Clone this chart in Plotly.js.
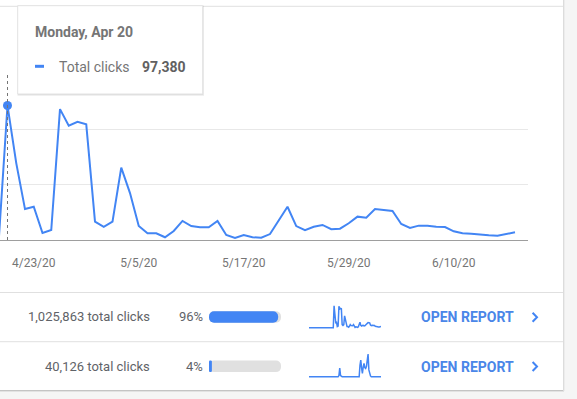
<!DOCTYPE html>
<html>
<head>
<meta charset="utf-8">
<script src="https://cdn.plot.ly/plotly-3.0.1.min.js"></script>
<style>
  html, body { margin: 0; padding: 0; background: #f5f5f5; overflow: hidden; }
  #chart { width: 577px; height: 399px; }
</style>
</head>
<body>
<div id="chart"></div>
<script>
// ---------- DATA ----------
const dates = [
  '2020-03-20','2020-03-21','2020-03-22','2020-03-23','2020-03-24','2020-03-25','2020-03-26','2020-03-27','2020-03-28','2020-03-29','2020-03-30','2020-03-31',
  '2020-04-01','2020-04-02','2020-04-03','2020-04-04','2020-04-05','2020-04-06','2020-04-07','2020-04-08','2020-04-09','2020-04-10',
  '2020-04-11','2020-04-12','2020-04-13','2020-04-14','2020-04-15','2020-04-16','2020-04-17','2020-04-18','2020-04-19','2020-04-20',
  '2020-04-21','2020-04-22','2020-04-23','2020-04-24','2020-04-25','2020-04-26','2020-04-27','2020-04-28','2020-04-29','2020-04-30',
  '2020-05-01','2020-05-02','2020-05-03','2020-05-04','2020-05-05','2020-05-06','2020-05-07','2020-05-08','2020-05-09','2020-05-10',
  '2020-05-11','2020-05-12','2020-05-13','2020-05-14','2020-05-15','2020-05-16','2020-05-17','2020-05-18','2020-05-19','2020-05-20',
  '2020-05-21','2020-05-22','2020-05-23','2020-05-24','2020-05-25','2020-05-26','2020-05-27','2020-05-28','2020-05-29','2020-05-30',
  '2020-05-31','2020-06-01','2020-06-02','2020-06-03','2020-06-04','2020-06-05','2020-06-06','2020-06-07','2020-06-08','2020-06-09',
  '2020-06-10','2020-06-11','2020-06-12','2020-06-13','2020-06-14','2020-06-15','2020-06-16','2020-06-17'
];

// Total clicks per day (main chart and first sparkline)
const totalClicks = [
  0,0,0,0,0,0,0,0,0,0,0,0,
  0,0,0,0,0,0,0,0,0,0,
  0,0,0,0,0,0,0,0,0,97380,
  55700,22400,24100,5100,7200,94800,82800,85600,83800,13300,
  9600,13300,52400,34000,10100,4900,4900,2000,6500,13800,
  10100,9200,9200,13800,3600,1500,3600,2000,1700,4300,
  14500,24100,10100,7200,9600,10900,7800,8200,12100,16900,
  16200,22400,21700,21000,11600,8700,10400,10400,9600,9400,
  6300,4900,4600,3800,3400,3100,4600,5600
];

// Second row clicks per day (second sparkline)
const secondRowClicks = [
  0,0,0,0,0,0,0,0,0,0,0,0,
  0,0,0,0,0,0,0,0,0,0,
  0,0,0,0,0,0,0,0,0,0,
  0,0,0,0,0,300,2300,300,0,0,
  0,0,0,0,0,0,0,0,0,0,
  0,0,0,0,0,0,0,0,0,0,
  0,3000,4400,2300,900,2500,3500,2400,2200,2700,
  4600,6000,1800,600,200,0,0,0,0,0,
  0,0,0,0,0,0,0,0
];

const tickDates  = ['2020-04-23','2020-05-05','2020-05-17','2020-05-29','2020-06-10'];
const tickLabels = ['4/23/20','5/5/20','5/17/20','5/29/20','6/10/20'];

const rowTotals   = [1025863, 40126];
const rowPercents = [96, 4];
const rowIndex    = [0, 1];
const barFull     = [100, 100];

const hoverDate  = '2020-04-20';
const hoverTitle = 'Monday, Apr 20';
const seriesName = 'Total clicks';
const actionText = 'OPEN REPORT';

// ---------- LAYOUT HELPERS ----------
const W = 577, H = 399;
const px = x => x / W;
const py = y => 1 - y / H;
const BLUE = '#4285f4';
const DAY = 86400000;
const dayPx = 8.75;
const hi = dates.indexOf(hoverDate);
const hoverMs = Date.parse(hoverDate + 'T00:00:00Z');
const xStart = hoverMs - (7.5 / dayPx) * DAY;
const xEnd = xStart + (527.7 / dayPx) * DAY;

const max1 = Math.max(...totalClicks);
const max2 = Math.max(...secondRowClicks);
const barBase = 1e-6; // non-zero base so both bar ends get rounded

// ---------- TRACES ----------
const traces = [
  { x: dates, y: totalClicks, xaxis: 'x', yaxis: 'y', type: 'scatter', mode: 'lines',
    line: { color: BLUE, width: 2 }, hoverinfo: 'skip' },
  { x: [dates[hi]], y: [totalClicks[hi]], xaxis: 'x', yaxis: 'y', type: 'scatter', mode: 'markers',
    marker: { color: BLUE, size: 9 }, hoverinfo: 'skip', cliponaxis: false },
  // progress bars
  { type: 'bar', orientation: 'h', y: rowIndex, x: barFull, base: barBase,
    xaxis: 'x2', yaxis: 'y2', width: 0.235, marker: { color: '#e0e0e0', cornerradius: 6 }, hoverinfo: 'skip' },
  { type: 'bar', orientation: 'h', y: rowIndex, x: rowPercents, base: barBase,
    xaxis: 'x2', yaxis: 'y2', width: 0.235, marker: { color: BLUE, cornerradius: 6 }, hoverinfo: 'skip' },
  // sparklines
  { x: dates, y: totalClicks, xaxis: 'x3', yaxis: 'y3', type: 'scatter', mode: 'lines',
    line: { color: BLUE, width: 1.5 }, hoverinfo: 'skip' },
  { x: dates, y: secondRowClicks, xaxis: 'x4', yaxis: 'y4', type: 'scatter', mode: 'lines',
    line: { color: BLUE, width: 1.5 }, hoverinfo: 'skip' }
];

// ---------- SHAPES ----------
const shapes = [
  // card
  { type: 'rect', xref: 'paper', yref: 'paper', x0: 0, x1: px(563), y0: py(390), y1: 1,
    fillcolor: '#ffffff', line: { width: 0 }, layer: 'below' },
  { type: 'line', xref: 'paper', yref: 'paper', x0: px(563.5), x1: px(563.5), y0: py(390), y1: 1,
    line: { color: '#dcdcdc', width: 1 }, layer: 'below' },
  { type: 'line', xref: 'paper', yref: 'paper', x0: px(564.5), x1: px(564.5), y0: py(391), y1: 1,
    line: { color: '#ececec', width: 1 }, layer: 'below' },
  { type: 'line', xref: 'paper', yref: 'paper', x0: 0, x1: px(563.5), y0: py(390.5), y1: py(390.5),
    line: { color: '#c4c4c4', width: 1 }, layer: 'below' },
  { type: 'line', xref: 'paper', yref: 'paper', x0: 0, x1: px(564), y0: py(391.5), y1: py(391.5),
    line: { color: '#e2e2e2', width: 1 }, layer: 'below' },
  // dividers
  { type: 'line', xref: 'paper', yref: 'paper', x0: 0, x1: px(563), y0: py(6.3), y1: py(6.3),
    line: { color: '#e0e0e0', width: 1 }, layer: 'below' },
  { type: 'line', xref: 'paper', yref: 'paper', x0: 0, x1: px(563), y0: py(292.5), y1: py(292.5),
    line: { color: '#e0e0e0', width: 1 }, layer: 'below' },
  { type: 'line', xref: 'paper', yref: 'paper', x0: 0, x1: px(563), y0: py(341.7), y1: py(341.7),
    line: { color: '#e0e0e0', width: 1 }, layer: 'below' },
  // hover guide
  { type: 'line', xref: 'x', yref: 'y', x0: dates[hi], x1: dates[hi], y0: 0, y1: 120000,
    line: { color: '#757575', width: 1, dash: 'dot' } },
  // tooltip shadow + box
  { type: 'rect', xref: 'paper', yref: 'paper', x0: px(17.5), x1: px(204), y0: py(96), y1: py(5.5),
    fillcolor: 'rgba(0,0,0,0.06)', line: { width: 0 } },
  { type: 'rect', xref: 'paper', yref: 'paper', x0: px(17.7), x1: px(203.3), y0: py(95), y1: py(5.7),
    fillcolor: 'rgba(0,0,0,0.08)', line: { width: 0 } },
  { type: 'rect', xref: 'paper', yref: 'paper', x0: px(17.7), x1: px(202.7), y0: py(94), y1: py(5.7),
    fillcolor: '#ffffff', line: { color: '#e3e3e3', width: 1 } },
  { type: 'line', xref: 'paper', yref: 'paper', x0: px(35), x1: px(44), y0: py(66.3), y1: py(66.3),
    line: { color: BLUE, width: 3 } },
  // chevrons
  { type: 'path', xref: 'paper', yref: 'paper',
    path: `M ${px(532.6)},${py(312.8)} L ${px(537)},${py(317.3)} L ${px(532.6)},${py(321.8)}`,
    line: { color: BLUE, width: 2 } },
  { type: 'path', xref: 'paper', yref: 'paper',
    path: `M ${px(532.6)},${py(362)} L ${px(537)},${py(366.5)} L ${px(532.6)},${py(371)}`,
    line: { color: BLUE, width: 2 } }
];

// ---------- ANNOTATIONS ----------
const fmt = v => v.toLocaleString('en-US');
const rowY = [316.8, 366.3];
const annotations = [
  { text: '<b>' + hoverTitle + '</b>', x: px(33), y: py(31.5), xanchor: 'left', yanchor: 'middle',
    font: { size: 14, color: '#757575' } },
  { text: seriesName, x: px(56.5), y: py(67), xanchor: 'left', yanchor: 'middle',
    font: { size: 14, color: '#757575' } },
  { text: '<b>' + fmt(totalClicks[hi]) + '</b>', x: px(188), y: py(67), xanchor: 'right', yanchor: 'middle',
    font: { size: 14, color: '#616161' } }
];
rowIndex.forEach(i => {
  annotations.push({ text: fmt(rowTotals[i]) + ' total clicks', x: px(152), y: py(rowY[i]),
    xanchor: 'right', yanchor: 'middle', font: { size: 13, color: '#5f6368' } });
  annotations.push({ text: rowPercents[i] + '%', x: px(205.3), y: py(rowY[i]),
    xanchor: 'right', yanchor: 'middle', font: { size: 13, color: '#5f6368' } });
  annotations.push({ text: '<b>' + actionText + '</b>', x: px(419.3), y: py(rowY[i] + 0.5),
    xanchor: 'left', yanchor: 'middle', font: { size: 14, color: '#4a86e8' } });
});
annotations.forEach(a => { a.xref = 'paper'; a.yref = 'paper'; a.showarrow = false; });

// ---------- LAYOUT ----------
const hidden = { visible: false, fixedrange: true };
const layout = {
  width: W, height: H,
  margin: { l: 0, r: 0, t: 0, b: 0, pad: 0 },
  paper_bgcolor: '#f5f5f5',
  plot_bgcolor: 'rgba(0,0,0,0)',
  showlegend: false,
  barmode: 'overlay',
  font: { family: 'Roboto, Arial, sans-serif' },
  xaxis: {
    type: 'date', domain: [0, px(527.7)], range: [xStart, xEnd],
    tickmode: 'array', tickvals: tickDates, ticktext: tickLabels,
    ticks: 'outside', ticklen: 12, tickcolor: 'rgba(0,0,0,0)',
    tickfont: { size: 12, color: '#757575' },
    showgrid: false, showline: true, linecolor: '#9e9e9e', linewidth: 1, zeroline: false, fixedrange: true
  },
  yaxis: {
    domain: [py(240), py(74.3)], range: [0, 120000], tick0: 0, dtick: 40000,
    showticklabels: false, ticks: '', gridcolor: '#e8e8e8', gridwidth: 1,
    zeroline: false, showline: false, fixedrange: true
  },
  xaxis2: Object.assign({ anchor: 'y2', domain: [px(209), px(281)], range: [0, 100] }, hidden),
  yaxis2: Object.assign({ anchor: 'x2', domain: [py(391), py(292.3)], range: [1.5, -0.5] }, hidden),
  xaxis3: Object.assign({ anchor: 'y3', type: 'date', domain: [px(309), px(381)],
    range: [dates[0], dates[dates.length - 1]] }, hidden),
  yaxis3: Object.assign({ anchor: 'x3', domain: [py(329.7), py(303.7)],
    range: [-max1 * 2 / 22, max1 * 24 / 22] }, hidden),
  xaxis4: Object.assign({ anchor: 'y4', type: 'date', domain: [px(309), px(381)],
    range: [dates[0], dates[dates.length - 1]] }, hidden),
  yaxis4: Object.assign({ anchor: 'x4', domain: [py(378.7), py(352)],
    range: [-max2 * 2 / 22.7, max2 * 24.7 / 22.7] }, hidden),
  shapes: shapes,
  annotations: annotations
};

Plotly.newPlot('chart', traces, layout, { staticPlot: true, displayModeBar: false });
</script>
</body>
</html>
